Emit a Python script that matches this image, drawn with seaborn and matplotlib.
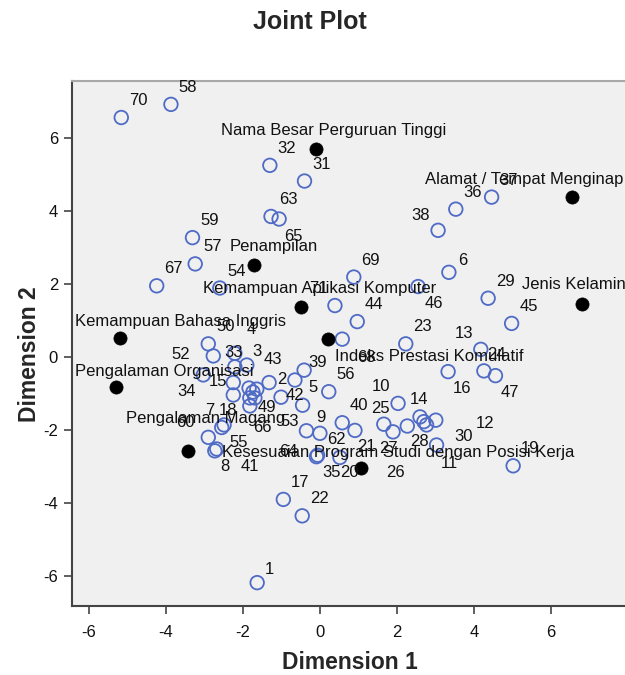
import seaborn as sns
import pandas as pd
import numpy as np
import matplotlib.pyplot as plt

# row points (case numbers 1..71), Dimension 1 / Dimension 2
row_labels = [str(i) for i in range(1, 72)]
row_x = [-1.63, -1.32, -1.90, -2.21, -0.45, 3.35, -2.25, -2.73, -0.35, 2.03,
         3.03, 3.01, 4.18, 2.60, -2.21, 3.33, -0.95, -2.49, 5.02, 0.52,
         0.91, -0.46, 2.23, 4.26, 1.66, 2.27, 1.90, 2.70, 4.37, 2.77,
         -0.40, -1.30, -2.25, -3.03, -0.09, 3.53, 4.46, 3.07, -0.41, 0.58,
         -2.68, -1.01, -0.65, 0.97, 4.98, 2.55, 4.56, -1.84, -1.74, -2.90,
         -1.64, -2.77, -1.69, -2.60, -2.55, 0.23, -3.24, -3.87, -3.31, -2.90,
         -1.82, 0.00, -1.27, -0.06, -1.06, -1.82, -4.24, 0.58, 0.88, -5.16,
         0.39]
row_y = [-6.18, -0.70, -0.22, 0.10, -1.32, 2.32, -1.04, -2.57, -2.02, -1.27,
         -2.41, -1.73, 0.21, -1.64, -0.27, -0.40, -3.90, -1.86, -2.98, -2.75,
         -2.01, -4.35, 0.36, -0.38, -1.84, -1.89, -2.05, -1.77, 1.61, -1.86,
         4.82, 5.25, -0.70, -0.49, -2.73, 4.05, 4.38, 3.47, -0.36, -1.80,
         -2.52, -1.10, -0.63, 0.97, 0.92, 1.93, -0.51, -0.85, -0.96, 0.36,
         -0.88, 0.03, -1.12, 1.89, -1.93, -0.95, 2.55, 6.92, 3.27, -2.20,
         -1.12, -2.09, 3.85, -2.69, 3.78, -1.34, 1.95, 0.49, 2.19, 6.56,
         1.41]

# column points (attributes)
col_names = ["Nama Besar Perguruan Tinggi", "Alamat / Tempat Menginap", "Penampilan",
             "Jenis Kelamin", "Kemampuan Aplikasi Komputer", "Kemampuan Bahasa Inggris",
             "Indeks Prestasi Komulatif", "Pengalaman Organisasi", "Pengalaman Magang",
             "Kesesuaian Program Studi dengan Posisi Kerja"]
col_x = [-0.11, 6.55, -1.71, 6.81, -0.49, -5.19, 0.22, -5.30, -3.42, 1.08]
col_y = [5.71, 4.39, 2.51, 1.44, 1.38, 0.51, 0.48, -0.83, -2.57, -3.05]

# label placement (pixel offsets from the point), default up-right
hidden = {"48", "51", "61"}
row_offsets = {
    "1": (12, 13), "2": (13, 3), "3": (10, 14), "4": (16, 24), "5": (10, 18),
    "6": (14, 12), "7": (-24, -16), "8": (10, -16), "9": (14, 13), "10": (-17, 17),
    "11": (13, -18), "12": (49, -3), "13": (-17, 16), "14": (-1, 17), "15": (-17, -15),
    "16": (14, -17), "18": (4, 14), "20": (10, -15), "21": (11, -16), "24": (13, 16),
    "25": (-3, 16), "26": (-12, -46), "27": (-5, -17), "28": (-4, -20), "30": (37, -12),
    "33": (0, 30), "34": (-17, -17), "35": (15, -16), "38": (-18, 15), "39": (13, 8),
    "41": (33, -17), "42": (14, 2), "43": (-22, 21), "46": (16, -17), "47": (14, -17),
    "49": (14, -15), "52": (-33, 1), "53": (35, -24), "55": (17, -15), "60": (-23, 15),
    "62": (17, -6), "64": (-29, 4), "65": (14, -17), "66": (13, -22), "68": (24, -18),
    "71": (-17, 17),
}
col_offsets = [(18, 18), (-48, 17), (20, 19), (-8, 20), (19, 18),
               (60, 17), (101, -17), (48, 16), (17, 32), (37, 16)]

rows = pd.DataFrame({"dim1": row_x, "dim2": row_y, "label": row_labels})
cols = pd.DataFrame({"dim1": col_x, "dim2": col_y, "label": col_names})

sns.set_theme(style="ticks")
plt.rcParams["font.family"] = ["Liberation Sans", "DejaVu Sans"]
plt.rcParams["axes.unicode_minus"] = False

fig = plt.figure(figsize=(6.25, 6.75), dpi=100)
ax = fig.add_axes([0.1152, 0.1022, 0.9048, 0.7778])
ax.set_facecolor("#f0f0f0")

sns.scatterplot(data=rows, x="dim1", y="dim2", ax=ax, s=95, marker="o",
                facecolors="none", edgecolor="#4f6bc6", linewidth=1.3, zorder=3)
sns.scatterplot(data=cols, x="dim1", y="dim2", ax=ax, s=90, marker="o",
                color="black", edgecolor="black", linewidth=0.5, zorder=4)

for lab, x, y in zip(row_labels, row_x, row_y):
    if lab in hidden:
        continue
    off = row_offsets.get(lab, (17, 17))
    ax.annotate(lab, (x, y), xytext=off, textcoords="offset pixels",
                ha="center", va="center", fontsize=12, color="#111111", zorder=5)

for lab, x, y, off in zip(col_names, col_x, col_y, col_offsets):
    ax.annotate(lab, (x, y), xytext=off, textcoords="offset pixels",
                ha="center", va="center", fontsize=12, color="#111111", zorder=5)

ax.set_xlim(-6.44, 8.25)
ax.set_ylim(-6.82, 7.56)
ax.set_xticks(np.arange(-6, 7, 2))
ax.set_yticks(np.arange(-6, 7, 2))
ax.set_xlabel("")
ax.set_ylabel("")
ax.tick_params(direction="out", length=6, width=1.2, color="#444444",
               labelsize=12, labelcolor="#111111")
ax.tick_params(axis="x", pad=8)
ax.tick_params(axis="y", pad=4)

for side in ["left", "bottom"]:
    ax.spines[side].set_color("#444444")
    ax.spines[side].set_linewidth(1.5)
ax.spines["top"].set_visible(True)
ax.spines["top"].set_color("#a8a8a8")
ax.spines["top"].set_linewidth(1.5)
ax.spines["right"].set_visible(False)

fig.text(0.496, 0.968, "Joint Plot", ha="center", va="center",
         fontsize=18, fontweight="bold")
fig.text(0.559, 0.018, "Dimension 1", ha="center", va="center",
         fontsize=16.5, fontweight="bold")
fig.text(0.047, 0.476, "Dimension 2", ha="center", va="center",
         rotation=90, fontsize=16.5, fontweight="bold")

fig.savefig("out.png", dpi=100)
